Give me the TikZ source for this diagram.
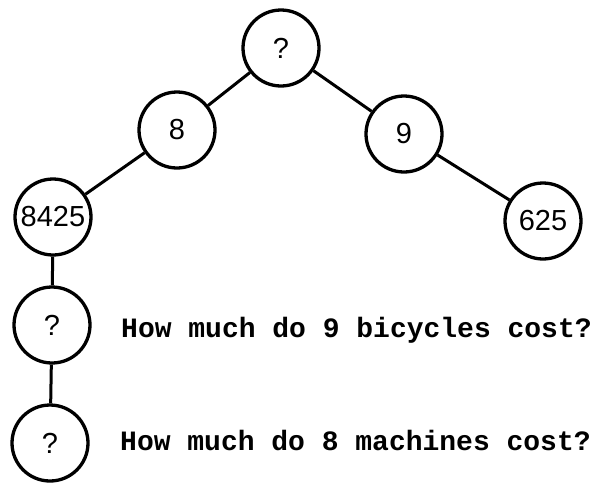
\documentclass[tikz,border=0pt]{standalone}
\usepackage{fontspec}
\setmainfont{Liberation Sans}
\newfontfamily\typew{Liberation Mono}
\begin{document}
\begin{tikzpicture}[x=1pt,y=-1pt,
  nd/.style={circle, draw, line width=3.3pt, minimum size=76pt, inner sep=0pt,
    font=\fontsize{29}{29}\selectfont},
  edge/.style={line width=3pt},
  qtext/.style={anchor=base west, inner sep=0pt,
    font=\typew\bfseries\fontsize{28}{30}\selectfont}]
\useasboundingbox (0,0) rectangle (604,483);
\node[nd] (top) at (281,48) {?};
\node[nd] (n8) at (177,130) {8};
\node[nd] (n9) at (404,134) {9};
\node[nd] (n8425) at (53,217) {8425};
\node[nd] (n625) at (543,221) {625};
\node[nd] (q1) at (52,325) {?};
\node[nd] (q2) at (50,443) {?};
\draw[edge] (top) -- (n8);
\draw[edge] (top) -- (n9);
\draw[edge] (n8) -- (n8425);
\draw[edge] (n9) -- (n625);
\draw[edge] (n8425) -- (q1);
\draw[edge] (q1) -- (q2);
\node[qtext] (t1) at (121,337) {How much do 9 bicycles cost?};
\node[qtext] (t2) at (120,450) {How much do 8 machines cost?};
\end{tikzpicture}
\end{document}
